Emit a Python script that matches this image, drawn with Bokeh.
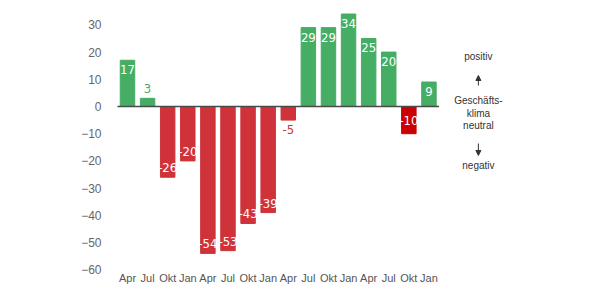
from bokeh.plotting import figure
from bokeh.models import ColumnDataSource, FixedTicker, Arrow, NormalHead
from bokeh.core.properties import value
from bokeh.embed import file_html
from bokeh.resources import INLINE

months = ["Apr", "Jul", "Okt", "Jan", "Apr", "Jul", "Okt", "Jan",
          "Apr", "Jul", "Okt", "Jan", "Apr", "Jul", "Okt", "Jan"]
values = [17, 3, -26, -20, -54, -53, -43, -39, -5, 29, 29, 34, 25, 20, -10, 9]
y_ticks = [30, 20, 10, 0, -10, -20, -30, -40, -50, -60]
note_positive = "positiv"
note_neutral = ["Geschäfts-", "klima", "neutral"]
note_negative = "negativ"

GREEN = "#46ad64"
RED = "#cf3339"
DARK_RED = "#cc0000"
FONT = "DejaVu Sans Condensed"

idx = list(range(len(values)))
colors = []
for i, v in enumerate(values):
    if v >= 0:
        colors.append(GREEN)
    elif i == len(values) - 2:
        colors.append(DARK_RED)
    else:
        colors.append(RED)

Y0, Y1 = -65.44, 38.97
p = figure(width=584, height=284, output_backend="svg", toolbar_location=None,
           x_range=(-0.746, 22.74), y_range=(Y0, Y1),
           min_border_left=112, min_border_right=0, min_border_top=0, min_border_bottom=0)
p.outline_line_color = None
p.grid.visible = False
p.xaxis.visible = False
p.yaxis.axis_line_color = None
p.yaxis.major_tick_line_color = None
p.yaxis.minor_tick_line_color = None
p.yaxis.ticker = FixedTicker(ticks=y_ticks)
p.yaxis.major_label_standoff = 5
p.yaxis.major_label_text_font = "Liberation Sans"
p.yaxis.major_label_text_font_size = "12px"
p.yaxis.major_label_text_color = "#666666"

src = ColumnDataSource(dict(x=idx, top=values, color=colors))
p.vbar(x="x", top="top", bottom=0, width=0.72, color="color", source=src)

# zero line
p.segment(x0=[-0.5], y0=[0], x1=[len(values) - 0.5], y1=[0], line_color="#4a4a4a", line_width=1.5)

# value labels
groups = {"top": ([], [], []), "bottom": ([], [], []), "middle": ([], [], [])}
for i, v in enumerate(values):
    if abs(v) >= 9:
        if i == len(values) - 2:
            g = groups["middle"]; g[0].append(i); g[1].append(v / 2); g[2].append(str(v))
        elif v > 0:
            g = groups["top"]; g[0].append(i); g[1].append(v); g[2].append(str(v))
        else:
            g = groups["bottom"]; g[0].append(i); g[1].append(v); g[2].append(str(v))
    else:
        if v >= 0:
            p.text(x=[i], y=[v], text=[str(v)], text_align="center", text_baseline="bottom",
                   y_offset=-5, text_color=GREEN, text_font=value(FONT), text_font_size="13px")
        else:
            p.text(x=[i], y=[v], text=[str(v)], text_align="center", text_baseline="top",
                   y_offset=5, text_color=RED, text_font=value(FONT), text_font_size="13px")
for base, off in (("top", 5), ("bottom", -5), ("middle", 0)):
    xs, ys, ts = groups[base]
    p.text(x=xs, y=ys, text=ts, text_align="center", text_baseline=base, y_offset=off,
           text_color="white", text_font=value(FONT), text_font_size="13px")

# x labels
p.text(x=idx, y=[Y0] * len(idx), text=months, text_align="center", text_baseline="bottom",
       y_offset=-1, text_color="#555555", text_font=value("Liberation Sans"), text_font_size="11px")

# right annotation
ax = 17.46
NOTE_C = "#333333"
p.text(x=[ax], y=[18.4], text=[note_positive], text_align="center", text_baseline="middle",
       text_color=NOTE_C, text_font=value("Liberation Sans"), text_font_size="10px")
p.text(x=[ax] * 3, y=[2.2, -2.57, -6.99], text=note_neutral, text_align="center", text_baseline="middle",
       text_color=NOTE_C, text_font=value("Liberation Sans"), text_font_size="10px")
p.text(x=[ax], y=[-21.7], text=[note_negative], text_align="center", text_baseline="middle",
       text_color=NOTE_C, text_font=value("Liberation Sans"), text_font_size="10px")
p.add_layout(Arrow(end=NormalHead(size=5, fill_color=NOTE_C, line_color=NOTE_C),
                   x_start=ax, y_start=7.7, x_end=ax, y_end=11.4, line_color=NOTE_C, line_width=1))
p.add_layout(Arrow(end=NormalHead(size=5, fill_color=NOTE_C, line_color=NOTE_C),
                   x_start=ax, y_start=-13.6, x_end=ax, y_end=-18.0, line_color=NOTE_C, line_width=1))

open("out.html", "w").write(file_html(p, INLINE))
